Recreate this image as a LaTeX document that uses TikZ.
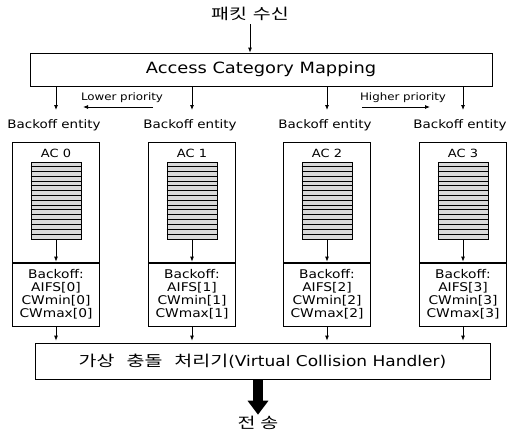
\documentclass[tikz,border=0pt]{standalone}
\usepackage{fontspec}
\setmainfont{DejaVu Sans}[FakeStretch=1.15]
\newfontfamily\kor{Noto Sans CJK KR}[FakeStretch=1.3]
\usetikzlibrary{positioning, arrows.meta}
\tikzset{box/.style={draw, line width=0.8pt, inner sep=0pt},
    arr/.style={line width=0.8pt, -{Latex[length=5pt,width=4pt]}},
    queue/.style={draw, line width=0.8pt, fill=gray!30, minimum width=50, minimum height=77, inner sep=0pt}}

\begin{document}
\begin{tikzpicture}[x=1pt,y=-1pt]
    \useasboundingbox (0,0) rectangle (510,431);
    % top
    \node[font=\kor\fontsize{15}{17}\selectfont] (src) at (250,14) {패킷\hspace{6pt}수신};
    \node[box, minimum width=462, minimum height=33, font=\fontsize{15.5}{17}\selectfont] (acm) at (261,69.5) {Access Category Mapping};
    \draw[arr] (src) -- (src |- acm.north);

    \node[font=\fontsize{10.3}{12}\selectfont] (lower) at (122,98) {Lower priority};
    \node[font=\fontsize{10.3}{12}\selectfont] (higher) at (403,98) {Higher priority};
    \coordinate (lp1) at (153,107);
    \coordinate (lp2) at (83,107);
    \coordinate (hp1) at (362,107);
    \coordinate (hp2) at (430,107);
    \draw[arr] (lp1) -- (lp2);
    \draw[arr] (hp1) -- (hp2);

    \node[box, minimum width=455, minimum height=36, font=\fontsize{14.8}{16}\selectfont] (vch) at (262.5,361) {{\kor\fontsize{15}{17}\selectfont 가상\hspace{12pt}충돌\hspace{12pt}처리기}(Virtual Collision Handler)};

    % the four access categories
    \foreach \i/\x/\t in {0/56/54, 1/192/190, 2/327/325, 3/463/460}{
        \coordinate (e\i) at (\x,110);
        \draw[arr] (acm.south -| e\i) -- (e\i);
        \node[font=\fontsize{11.7}{14}\selectfont] (ent\i) at (\t,125) {Backoff entity};
        \node[box, minimum width=87, minimum height=121] (ac\i) at (\x,202.5) {};
        \node[box, minimum width=87, minimum height=64, align=center, font=\fontsize{12}{13}\selectfont] (bo\i) at (\x,294) {Backoff:\\AIFS[\i]\\CWmin[\i]\\CWmax[\i]};
        \node[font=\fontsize{11.3}{13}\selectfont] (lab\i) at (\x,153) {AC \i};
        \node[queue] (q\i) at (\x,200.5) {};
        \foreach \k in {1,...,15}
            \draw[line width=0.5pt] (q\i.north west) ++(0,\k*4.8125) -- ++(50,0);
        \draw[arr] (q\i) -- (bo\i);
        \draw[arr, shorten >=2pt] (bo\i) -- (bo\i |- vch.north);
    }

    % send
    \node[font=\kor\fontsize{15}{17}\selectfont] (snd) at (258,423) {전\hspace{5pt}송};
    \draw[line width=10pt, -{Triangle[length=14pt,width=20pt]}] (vch.south -| snd) -- ([yshift=-2pt]snd.north);
\end{tikzpicture}
\end{document}
